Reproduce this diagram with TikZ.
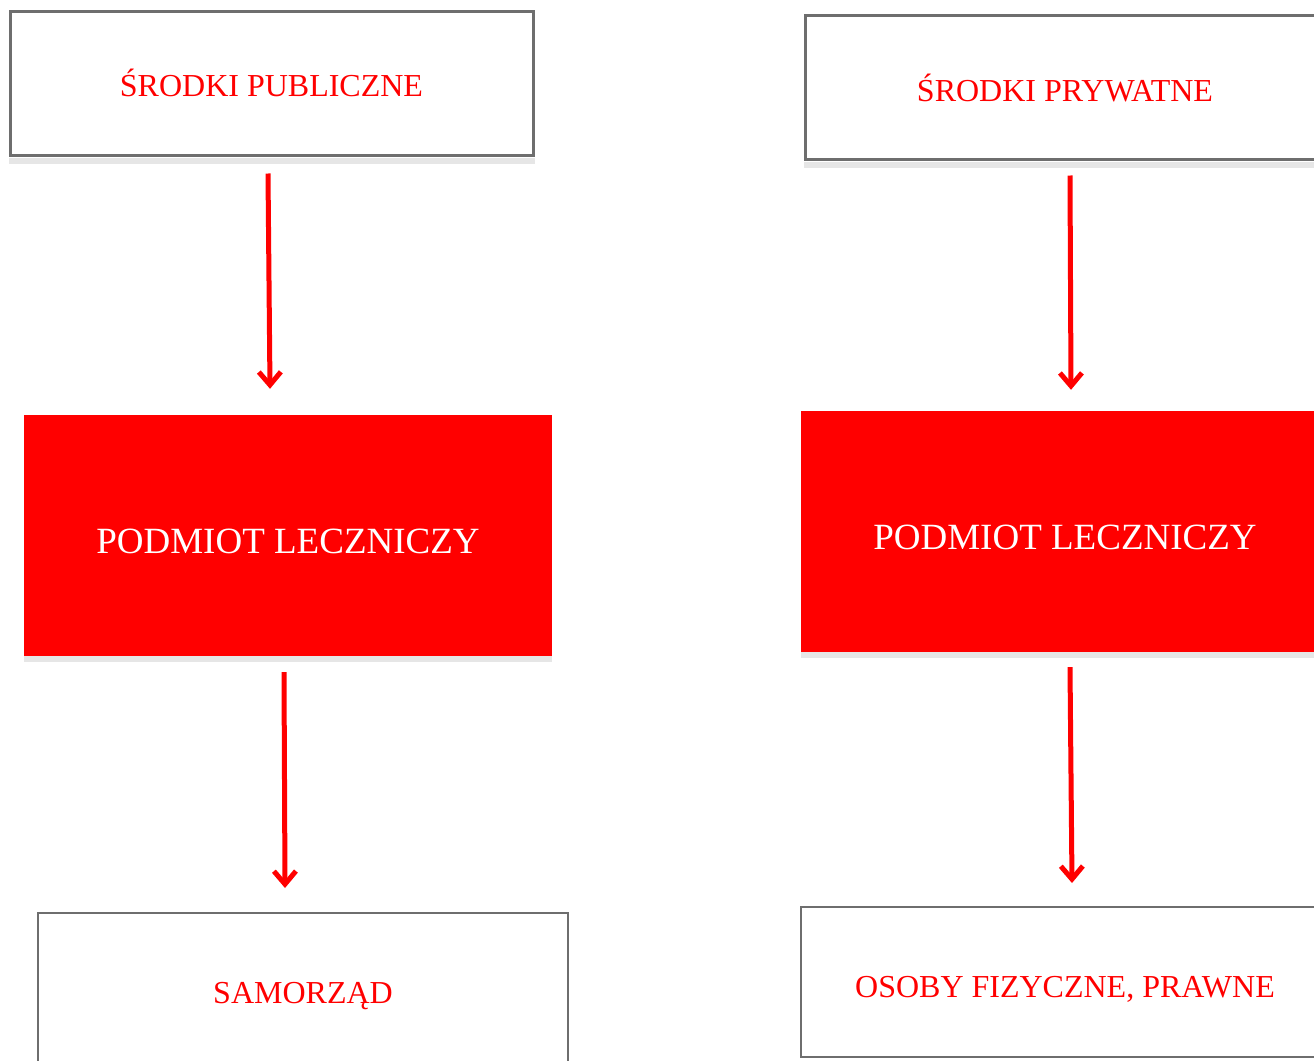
\documentclass[tikz,border=0pt]{standalone}
\usepackage{fontspec}
\setmainfont{Liberation Serif}
\usetikzlibrary{arrows.meta}

\definecolor{boxgray}{RGB}{110,110,110}
\definecolor{shadegray}{RGB}{230,230,230}

\tikzset{
  srcbox/.style={draw=boxgray, line width=3pt, fill=white, text=red,
    minimum height=144pt, text depth=0pt, font=\fontsize{32}{38}\selectfont},
  unitbox/.style={fill=red, text=white, minimum width=528pt, minimum height=241pt,
    text height=35.5pt, text depth=0pt, font=\fontsize{37}{44}\selectfont},
  endbox/.style={draw=boxgray, line width=2pt, fill=white, text=red,
    text depth=0pt, font=\fontsize{32}{38}\selectfont},
  flow/.style={draw=red, line width=5pt,
    -{Straight Barb[length=13pt,width=22pt,line width=5pt]}},
  shade/.style={fill=shadegray}
}

\begin{document}
\begin{tikzpicture}[x=1pt,y=-1pt]

  \useasboundingbox (0,0) rectangle (1314,1060);
  \clip (0,0) rectangle (1314,1060);

  % left column
  \node (pub) [srcbox, minimum width=523pt, text height=27pt] at (271.5,83) {ŚRODKI PUBLICZNE};
  \node (leczpub) [unitbox] at (288,535.5) {PODMIOT LECZNICZY};
  \node (samorzad) [endbox, minimum width=530pt, minimum height=160pt, text height=21pt] at (303,993) {SAMORZĄD};

  % right column
  \node (priv) [srcbox, minimum width=520pt, text height=29pt] at (1065,87) {ŚRODKI PRYWATNE};
  \node (leczpriv) [unitbox] at (1065,531.5) {PODMIOT LECZNICZY};
  \node (osoby) [endbox, minimum width=528pt, minimum height=150pt, text height=31pt] at (1065,982) {OSOBY FIZYCZNE, PRAWNE};

  \fill[shade] ([yshift=-1.5pt]pub.south west) rectangle ([yshift=-7pt]pub.south east);
  \fill[shade] ([yshift=-1.5pt]priv.south west) rectangle ([yshift=-7pt]priv.south east);
  \fill[shade] (leczpub.south west) rectangle ([yshift=-6pt]leczpub.south east);
  \fill[shade] (leczpriv.south west) rectangle ([yshift=-6pt]leczpriv.south east);

  \draw[flow] ([xshift=-3.5pt,yshift=-17pt]pub.south) -- ([xshift=-18pt,yshift=26pt]leczpub.north);
  \draw[flow] ([xshift=-4pt,yshift=-16pt]leczpub.south) -- ([xshift=-18pt,yshift=24pt]samorzad.north);
  \draw[flow] ([xshift=5pt,yshift=-15pt]priv.south) -- ([xshift=6pt,yshift=21pt]leczpriv.north);
  \draw[flow] ([xshift=5pt,yshift=-15pt]leczpriv.south) -- ([xshift=7pt,yshift=23pt]osoby.north);

\end{tikzpicture}
\end{document}
